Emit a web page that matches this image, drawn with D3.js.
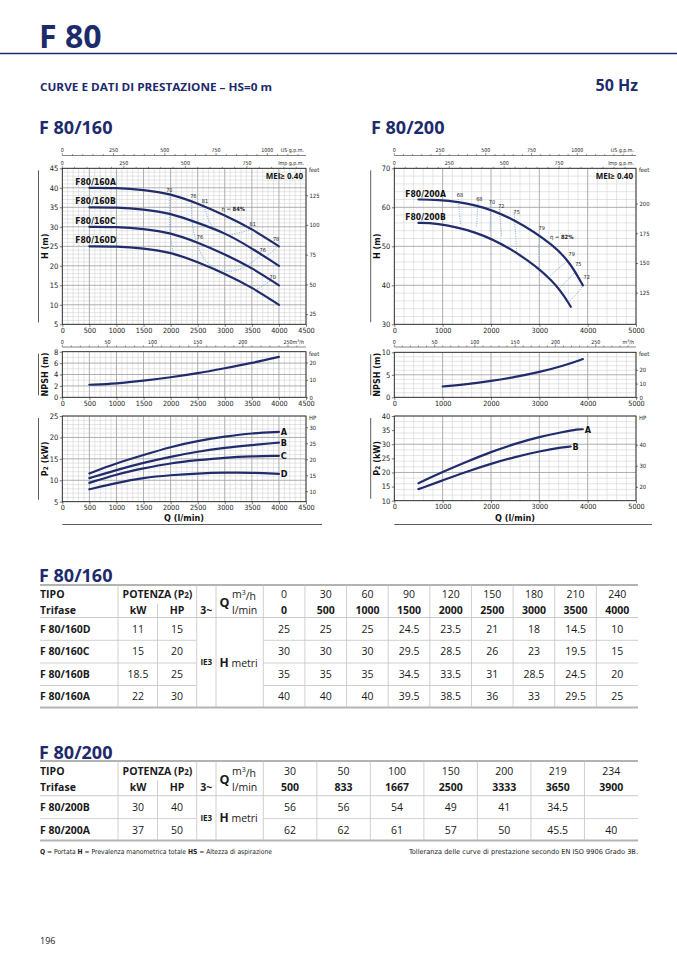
<!DOCTYPE html>
<html>
<head>
<meta charset="utf-8">
<script src="https://cdn.jsdelivr.net/npm/d3@7"></script>
<style>
  body { margin: 0; background: #fff; }
  svg { display: block; }
</style>
</head>
<body>
<script>
// ---- data ----
// F 80/160 table (also drives the H curves, Q > 0)
const q160 = [0, 500, 1000, 1500, 2000, 2500, 3000, 3500, 4000];
const m3h160 = [0, 30, 60, 90, 120, 150, 180, 210, 240];
const models160 = ["F 80/160D", "F 80/160C", "F 80/160B", "F 80/160A"];
const names160 = ["F80/160D", "F80/160C", "F80/160B", "F80/160A"];
const kw160 = [11, 15, 18.5, 22];
const hp160 = [15, 20, 25, 30];
const h160D = [25, 25, 25, 24.5, 23.5, 21, 18, 14.5, 10];
const h160C = [30, 30, 30, 29.5, 28.5, 26, 23, 19.5, 15];
const h160B = [35, 35, 35, 34.5, 33.5, 31, 28.5, 24.5, 20];
const h160A = [40, 40, 40, 39.5, 38.5, 36, 33, 29.5, 25];

// F 80/200 table
const q200 = [500, 833, 1667, 2500, 3333, 3650, 3900];
const m3h200 = [30, 50, 100, 150, 200, 219, 234];
const models200 = ["F 80/200B", "F 80/200A"];
const names200 = ["F80/200B", "F80/200A"];
const kw200 = [30, 37];
const hp200 = [40, 50];
const h200B = [56, 56, 54, 49, 41, 34.5, null];
const h200A = [62, 62, 61, 57, 50, 45.5, 40];

// NPSH and P2 curves
const qCurve160 = [500, 1000, 1500, 2000, 2500, 3000, 3500, 4000];
const npsh160 = [2.2, 2.4, 2.9, 3.5, 4.2, 5.1, 6.0, 7.1];
const p2_160A = [11.6, 14.0, 15.9, 17.8, 19.2, 20.2, 21.0, 21.3];
const p2_160B = [10.5, 12.4, 14.1, 15.5, 16.7, 17.6, 18.2, 18.8];
const p2_160C = [9.4, 11.4, 12.8, 14.0, 14.7, 15.3, 15.6, 15.7];
const p2_160D = [7.9, 9.4, 10.6, 11.2, 11.6, 11.8, 11.8, 11.5];

const qNpsh200 = [1000, 1500, 2000, 2500, 3000, 3500, 3900];
const npsh200 = [2.4, 2.9, 3.6, 4.5, 5.6, 7.0, 8.5];
const qP2_200A = [500, 1000, 1500, 2000, 2500, 3000, 3500, 3800, 3900];
const p2_200A = [16.2, 20.2, 23.8, 27.3, 30.2, 32.6, 34.4, 35.3, 35.3];
const qP2_200B = [500, 1000, 1500, 2000, 2500, 3000, 3500, 3650];
const p2_200B = [14.1, 17.2, 20.3, 23.1, 25.5, 27.5, 29.0, 29.2];

// efficiency iso lines [Q, H]
const iso160 = [
  [[1975, 38.7], [1980, 33.5], [1990, 28.5], [2050, 23.3]],
  [[3590, 13.9], [3720, 15.0], [3860, 16.3]],
  [[2390, 36.7], [2395, 31.8], [2470, 26.4], [2630, 21.6], [2850, 19.2], [3040, 18.6], [3250, 19.0], [3470, 20.6], [3690, 23.0]],
  [[2604, 36.4], [2650, 33.8], [2720, 31.2], [2850, 29.1], [3050, 28.1], [3250, 28.4], [3400, 29.0], [3500, 29.5]],
  [[3770, 22.5], [3880, 23.7], [3990, 25.1]]
];
const isoLabels160 = [
  ["70", 1977, 39.5], ["76", 2420, 37.8], ["81", 2635, 36.7], ["81", 3516, 30.6],
  ["78", 3947, 26.8], ["76", 3700, 24.0], ["70", 3885, 17.2], ["76", 2543, 27.3]
];
const bep160 = ["84%", 3158, 34.5];

const iso200 = [
  [[1324, 62.1], [1345, 58.8], [1374, 55.3]],
  [[1738, 61.5], [1715, 58.0], [1704, 54.6]],
  [[1994, 60.8], [1988, 57.4], [1980, 53.8]],
  [[2173, 60.2], [2192, 56.4], [2222, 52.6]],
  [[2477, 58.8], [2505, 53.9], [2532, 48.7]],
  [[3000, 53.0], [2985, 48.8], [3000, 44.4]],
  [[3221, 42.4], [3420, 44.6], [3600, 46.4]],
  [[3428, 39.4], [3600, 41.6], [3773, 43.8]],
  [[3600, 35.6], [3760, 37.6], [3910, 40.0]]
];
const isoLabels200 = [
  ["68", 1359, 63.2], ["68", 1759, 62.1], ["70", 2021, 61.3], ["72", 2214, 60.3], ["75", 2532, 58.9],
  ["79", 3050, 54.8], ["79", 3670, 48.0], ["75", 3807, 45.4], ["72", 3980, 42.0]
];
const bep200 = ["82%", 3463, 52.3];

// axis ticks
const flowTicks160 = d3.range(0, 4501, 500);
const flowTicks200 = d3.range(0, 5001, 1000);
const usTicks = [0, 250, 500, 750, 1000];
const impTicks160 = [0, 250, 500, 750];
const impTicks200 = [0, 250, 500, 750];
const m3hTicks = [0, 50, 100, 150, 200, 250];

// ---- drawing ----
const NAVY = "#1d2a6c";
const CURVE = "#202c6c";
const ISO = "#6fa6d8";
const COND = "'Liberation Sans Narrow','DejaVu Sans Condensed',sans-serif";
const SANS = "'Open Sans','Noto Sans',sans-serif";
const fmt = d3.format("d");

const svg = d3.select("body").append("svg")
  .attr("width", 677).attr("height", 958)
  .style("font-family", SANS);

function styleAxis(sel, size) {
  sel.attr("font-size", null).attr("font-family", null);
  sel.select(".domain").remove();
  sel.selectAll(".tick line").attr("stroke", "#222").attr("stroke-width", 0.6);
  sel.selectAll("text").attr("font-size", size).attr("font-family", COND).attr("fill", "#222");
}

function panel(o) {
  const x = d3.scaleLinear().domain(o.xd).range([o.l, o.r]);
  const y = d3.scaleLinear().domain(o.yd).range([o.b, o.t]);
  const g = svg.append("g");
  g.append("rect").attr("x", o.l).attr("y", o.t)
    .attr("width", o.r - o.l).attr("height", o.b - o.t).attr("fill", "#fff");

  const isMaj = (v, s) => Math.abs(v / s - Math.round(v / s)) < 1e-6;
  const xs = d3.range(o.xd[0], o.xd[1] + 1e-6, o.xm);
  const ys = d3.range(o.yd[0], o.yd[1] + 1e-6, o.ym);
  [false, true].forEach(major => {
    g.append("g").selectAll("line").data(xs.filter(v => isMaj(v, o.xM) === major)).join("line")
      .attr("x1", x).attr("x2", x).attr("y1", o.t).attr("y2", o.b)
      .attr("stroke", major ? "#a5a5a5" : "#cfcfcf")
      .attr("stroke-width", major ? 0.9 : 0.55);
    g.append("g").selectAll("line").data(ys.filter(v => isMaj(v, o.yM) === major)).join("line")
      .attr("x1", o.l).attr("x2", o.r).attr("y1", y).attr("y2", y)
      .attr("stroke", major ? "#a5a5a5" : "#cfcfcf")
      .attr("stroke-width", major ? 0.9 : 0.55);
  });
  g.append("rect").attr("x", o.l).attr("y", o.t)
    .attr("width", o.r - o.l).attr("height", o.b - o.t)
    .attr("fill", "none").attr("stroke", "#222").attr("stroke-width", 0.8);

  g.append("g").attr("transform", `translate(${o.l},0)`)
    .call(d3.axisLeft(y).tickValues(o.yt).tickFormat(fmt).tickSize(2.5).tickPadding(1.5))
    .call(styleAxis, 7.5);
  g.append("g").attr("transform", `translate(0,${o.b})`)
    .call(d3.axisBottom(x).tickValues(o.xt).tickFormat(fmt).tickSize(2.5).tickPadding(1))
    .call(styleAxis, 7.2);

  // secondary unit on the right
  const y2 = d3.scaleLinear().domain(o.yd.map(v => v / o.rf)).range([o.b, o.t]);
  g.append("g").attr("transform", `translate(${o.r},0)`)
    .call(d3.axisRight(y2).tickValues(o.rt).tickFormat(fmt).tickSize(2).tickPadding(1.5))
    .call(styleAxis, 5.8);
  g.append("text").attr("x", o.r + 3).attr("y", o.t + 4)
    .attr("font-family", COND).attr("font-size", 5.8).attr("fill", "#222").text(o.rl);

  // side bracket + rotated title
  g.append("line").attr("x1", o.bx).attr("x2", o.bx).attr("y1", o.t + 2).attr("y2", o.b - 2)
    .attr("stroke", "#333").attr("stroke-width", 0.8);
  const tt = g.append("text")
    .attr("transform", `translate(${o.bx + 9},${(o.t + o.b) / 2}) rotate(-90)`)
    .attr("text-anchor", "middle").attr("font-family", COND)
    .attr("font-weight", "bold").attr("font-size", 9).attr("fill", "#111");
  o.title(tt);
  return { x, y, g };
}

// top scale with a converted unit
function topScale(p, factor, ticks, minor, lineY, label, withLine) {
  const [l, r] = p.x.range();
  const u = d3.scaleLinear().domain(p.x.domain().map(v => v / factor)).range([l, r]);
  const g = p.g.append("g");
  if (withLine) {
    g.append("line").attr("x1", l).attr("x2", r).attr("y1", lineY).attr("y2", lineY)
      .attr("stroke", "#333").attr("stroke-width", 0.6);
  }
  const maxU = u.domain()[1];
  g.selectAll(".mt").data(d3.range(0, maxU, minor)).join("line")
    .attr("x1", u).attr("x2", u).attr("y1", lineY)
    .attr("y2", d => lineY - (ticks.includes(d) ? 2.5 : 1.5))
    .attr("stroke", "#333").attr("stroke-width", 0.5);
  g.selectAll(".lb").data(ticks).join("text")
    .attr("x", u).attr("y", lineY - 3.5).attr("text-anchor", "middle")
    .attr("font-family", COND).attr("font-size", 5.3).attr("fill", "#222").text(d => d);
  const lt = g.append("text").attr("x", r - 2).attr("y", lineY - 3.5).attr("text-anchor", "end")
    .attr("font-family", COND).attr("font-size", 5.3).attr("fill", "#222");
  label(lt);
}

const isoLine = (p) => d3.line().x(d => p.x(d[0])).y(d => p.y(d[1])).curve(d3.curveCatmullRom.alpha(0.5));
const pumpLine = (p) => d3.line().x(d => p.x(d[0])).y(d => p.y(d[1])).curve(d3.curveBasis);

function drawCurve(p, pts, w) {
  p.g.append("path").attr("d", pumpLine(p)(pts)).attr("fill", "none")
    .attr("stroke", CURVE).attr("stroke-width", w || 2.2).attr("stroke-linecap", "round");
}

function drawIso(p, lines, labels, bep) {
  p.g.append("g").selectAll("path").data(lines).join("path")
    .attr("d", isoLine(p)).attr("fill", "none").attr("stroke", ISO)
    .attr("stroke-width", 0.9).attr("stroke-dasharray", "1.1,1.3");
  p.g.append("g").selectAll("text").data(labels).join("text")
    .attr("x", d => p.x(d[1])).attr("y", d => p.y(d[2])).attr("dy", "0.35em")
    .attr("text-anchor", "middle").attr("font-family", COND).attr("font-size", 5.5)
    .attr("fill", "#222").text(d => d[0]);
  const t = p.g.append("text").attr("x", p.x(bep[1])).attr("y", p.y(bep[2])).attr("dy", "0.35em")
    .attr("text-anchor", "middle").attr("font-family", COND).attr("font-size", 5.8).attr("fill", "#222");
  t.append("tspan").text("η = ");
  t.append("tspan").attr("font-weight", "bold").text(bep[0]);
}

function zip(xs, ys) { return xs.map((v, i) => [v, ys[i]]).filter(d => d[0] > 0 && d[1] != null); }

// ---- header ----
svg.append("text").attr("x", 39).attr("y", 48).attr("font-size", 32).attr("font-weight", "bold")
  .attr("fill", NAVY).text("F 80");
svg.append("line").attr("x1", 0).attr("x2", 677).attr("y1", 53.5).attr("y2", 53.5)
  .attr("stroke", NAVY).attr("stroke-width", 1.6);
svg.append("text").attr("x", 40).attr("y", 91).attr("font-size", 10.5).attr("font-weight", "bold")
  .attr("fill", NAVY).attr("textLength", 232).attr("lengthAdjust", "spacingAndGlyphs")
  .text("CURVE E DATI DI PRESTAZIONE  –  HS=0 m");
svg.append("text").attr("x", 638).attr("y", 91).attr("text-anchor", "end").attr("font-size", 16)
  .attr("font-weight", "bold").attr("fill", NAVY).text("50 Hz");
svg.append("text").attr("x", 39).attr("y", 133.5).attr("font-size", 18).attr("font-weight", "bold")
  .attr("fill", NAVY).text("F 80/160");
svg.append("text").attr("x", 371).attr("y", 133.5).attr("font-size", 18).attr("font-weight", "bold")
  .attr("fill", NAVY).text("F 80/200");

// ---- F 80/160 charts ----
const L = { l: 62.3, r: 306, xd: [0, 4500], xm: 100, xM: 500, xt: flowTicks160, bx: 38.5 };
const hL = panel(Object.assign({}, L, {
  t: 168.3, b: 324.3, yd: [5, 45], ym: 1, yM: 5, yt: d3.range(5, 46, 5),
  rf: 0.3048, rt: [25, 50, 75, 100, 125], rl: "feet", title: t => t.text("H (m)")
}));
topScale(hL, 3.78541, usTicks, 50, 155.5, t => t.text("US g.p.m."), true);
topScale(hL, 4.54609, impTicks160, 50, 168.3, t => t.text("Imp g.p.m."), false);
drawIso(hL, iso160, isoLabels160, bep160);
[h160D, h160C, h160B, h160A].forEach((h, i) => {
  drawCurve(hL, zip(q160, h));
  hL.g.append("text").attr("x", L.l + 13).attr("y", hL.y(h[1]) - 3)
    .attr("font-family", COND).attr("font-weight", "bold").attr("font-size", 8.5).attr("fill", "#111")
    .text(names160[i]);
});
hL.g.append("text").attr("x", 303).attr("y", 178.5).attr("text-anchor", "end")
  .attr("font-weight", "bold").attr("font-size", 8).attr("fill", "#111").text("MEI≥ 0.40");

const nL = panel(Object.assign({}, L, {
  t: 351.7, b: 397.3, yd: [0, 8], ym: 1, yM: 2, yt: [0, 2, 4, 6, 8],
  rf: 0.3048, rt: [0, 10, 20], rl: "feet", title: t => t.text("NPSH (m)")
}));
topScale(nL, 16.6667, m3hTicks, 10, 347, t => { t.text("m"); t.append("tspan").attr("font-size", 3.8).attr("dy", -1.5).text("3"); t.append("tspan").attr("dy", 1.5).text("/h"); }, true);
drawCurve(nL, zip(qCurve160, npsh160));

const pL = panel(Object.assign({}, L, {
  t: 416, b: 501.7, yd: [5, 25], ym: 1, yM: 5, yt: d3.range(5, 26, 5),
  rf: 0.7457, rt: [10, 15, 20, 25, 30], rl: "HP",
  title: t => { t.text("P"); t.append("tspan").attr("font-size", 6.5).text("2"); t.append("tspan").text(" (kW)"); }
}));
[["A", p2_160A], ["B", p2_160B], ["C", p2_160C], ["D", p2_160D]].forEach(([k, v]) => {
  drawCurve(pL, zip(qCurve160, v));
  pL.g.append("text").attr("x", pL.x(4000) + 1.8).attr("y", pL.y(v[v.length - 1])).attr("dy", "0.36em")
    .attr("font-family", COND).attr("font-weight", "bold").attr("font-size", 9).attr("fill", "#111").text(k);
});

// ---- F 80/200 charts ----
const R = { l: 394.3, r: 636, xd: [0, 5000], xm: 200, xM: 1000, xt: flowTicks200, bx: 370.7 };
const hR = panel(Object.assign({}, R, {
  t: 168.3, b: 324.3, yd: [30, 70], ym: 2, yM: 10, yt: [30, 40, 50, 60, 70],
  rf: 0.3048, rt: [125, 150, 175, 200], rl: "feet", title: t => t.text("H (m)")
}));
topScale(hR, 3.78541, usTicks, 50, 155.5, t => t.text("US g.p.m."), true);
topScale(hR, 4.54609, impTicks200, 50, 168.3, t => t.text("Imp g.p.m."), false);
drawIso(hR, iso200, isoLabels200, bep200);
[h200B, h200A].forEach((h, i) => {
  drawCurve(hR, zip(q200, h));
  hR.g.append("text").attr("x", R.l + 11).attr("y", hR.y(h[0]) - 3)
    .attr("font-family", COND).attr("font-weight", "bold").attr("font-size", 8.5).attr("fill", "#111")
    .text(names200[i]);
});
hR.g.append("text").attr("x", 633).attr("y", 178.5).attr("text-anchor", "end")
  .attr("font-weight", "bold").attr("font-size", 8).attr("fill", "#111").text("MEI≥ 0.40");

const nR = panel(Object.assign({}, R, {
  t: 352.3, b: 397.3, yd: [0, 10], ym: 1, yM: 5, yt: [0, 5, 10],
  rf: 0.3048, rt: [0, 10, 20], rl: "feet", title: t => t.text("NPSH (m)")
}));
topScale(nR, 16.6667, m3hTicks, 10, 347, t => { t.text("m"); t.append("tspan").attr("font-size", 3.8).attr("dy", -1.5).text("3"); t.append("tspan").attr("dy", 1.5).text("/h"); }, true);
drawCurve(nR, zip(qNpsh200, npsh200));

const pR = panel(Object.assign({}, R, {
  t: 416, b: 500.7, yd: [10, 40], ym: 2, yM: 10, yt: d3.range(10, 41, 5),
  rf: 0.7457, rt: [20, 30, 40], rl: "HP",
  title: t => { t.text("P"); t.append("tspan").attr("font-size", 6.5).text("2"); t.append("tspan").text(" (kW)"); }
}));
[["A", qP2_200A, p2_200A], ["B", qP2_200B, p2_200B]].forEach(([k, q, v]) => {
  drawCurve(pR, zip(q, v));
  pR.g.append("text").attr("x", pR.x(q[q.length - 1]) + 1.8).attr("y", pR.y(v[v.length - 1])).attr("dy", "0.36em")
    .attr("font-family", COND).attr("font-weight", "bold").attr("font-size", 9).attr("fill", "#111").text(k);
});

// Q axis captions
[[L, 184], [R, 515]].forEach(([c, cx]) => {
  svg.append("text").attr("x", cx).attr("y", 521).attr("text-anchor", "middle")
    .attr("font-family", COND).attr("font-weight", "bold").attr("font-size", 9).attr("fill", "#111")
    .text("Q (l/min)");
  svg.append("line").attr("x1", c.l).attr("x2", c.r + 16).attr("y1", 524.5).attr("y2", 524.5)
    .attr("stroke", "#333").attr("stroke-width", 0.8);
});

// ---- tables ----
function table(o) {
  const g = svg.append("g").attr("font-size", 10.5).attr("fill", "#1a1a1a");
  const col = d3.scaleBand().domain(d3.range(o.m3h.length)).range([263.3, 638]);
  const cx = i => col(i) + col.bandwidth() / 2;
  const GRID = "#c4c4c4";
  svg.append("text").attr("x", 39).attr("y", o.titleY).attr("font-size", 18).attr("font-weight", "bold")
    .attr("fill", NAVY).text(o.title);

  // rules
  const hl = (y, x1, x2, w, c) => g.append("line").attr("x1", x1).attr("x2", x2).attr("y1", y).attr("y2", y)
    .attr("stroke", c || GRID).attr("stroke-width", w || 0.8);
  hl(o.top, 40, 638, 2, "#b3b3b3");
  hl(o.hdr, 40, 638, 0.9);
  o.seps.forEach(s => { hl(s, 40, 196.7); hl(s, 263.3, 638); });
  hl(o.bottom, 40, 638, 2, "#b3b3b3");
  const vx = [118, 196.7, 216, 263.3].concat(d3.range(1, o.m3h.length).map(i => col(i)));
  g.append("g").selectAll("line").data(vx).join("line")
    .attr("x1", d => d).attr("x2", d => d).attr("y1", o.top).attr("y2", o.bottom)
    .attr("stroke", GRID).attr("stroke-width", 0.8);
  g.append("line").attr("x1", 157.5).attr("x2", 157.5).attr("y1", (o.r1 + o.r2) / 2 + 1).attr("y2", o.bottom)
    .attr("stroke", GRID).attr("stroke-width", 0.8);

  const txt = (x, y, s, anchor, bold, size) => g.append("text").attr("x", x).attr("y", y).attr("dy", "0.36em")
    .attr("text-anchor", anchor || "start").attr("font-weight", bold ? "bold" : null)
    .attr("font-size", size || null).text(s);

  txt(40, o.r1, "TIPO", "start", true);
  txt(40, o.r2, "Trifase", "start", true);
  const pt = txt(157.5, o.r1, "POTENZA (P", "middle", true);
  pt.append("tspan").attr("font-size", 8).text("2");
  pt.append("tspan").text(")");
  txt(138, o.r2, "kW", "middle", true);
  txt(177, o.r2, "HP", "middle", true);
  txt(206.3, o.r2, "3~", "middle", true);
  txt(219.5, (o.r1 + o.r2) / 2, "Q", "start", true, 12.5);
  const mt = txt(232, o.r1, "m", "start");
  mt.append("tspan").attr("font-size", 7).attr("dy", "-0.4em").text("3");
  mt.append("tspan").attr("dy", "0.4em").text("/h");
  txt(232, o.r2, "l/min", "start");
  g.append("g").selectAll("text").data(o.m3h).join("text")
    .attr("x", (d, i) => cx(i)).attr("y", o.r1).attr("dy", "0.36em").attr("text-anchor", "middle").text(d => d);
  g.append("g").selectAll("text").data(o.lmin).join("text")
    .attr("x", (d, i) => cx(i)).attr("y", o.r2).attr("dy", "0.36em").attr("text-anchor", "middle")
    .attr("font-weight", "bold").text(d => d);

  const mid = (o.hdr + o.bottom) / 2;
  txt(206.3, mid, "IE3", "middle", true, 8);
  const ht = txt(219.5, mid, "H", "start", true, 12);
  ht.append("tspan").attr("font-weight", "normal").attr("font-size", 10.5).text(" metri");

  o.models.forEach((m, r) => {
    const y = o.rows[r];
    txt(40, y, m, "start", true);
    txt(138, y, o.kw[r], "middle");
    txt(177, y, o.hp[r], "middle");
    g.append("g").selectAll("text").data(o.heads[r]).join("text")
      .attr("x", (d, i) => cx(i)).attr("y", y).attr("dy", "0.36em").attr("text-anchor", "middle")
      .text(d => d == null ? "" : d);
  });
}

table({
  title: "F 80/160", titleY: 581.5, top: 585, r1: 594.5, r2: 610.5, hdr: 617.5,
  rows: [629.3, 651.7, 674, 696.7], seps: [640.3, 663, 685.5], bottom: 707.5,
  m3h: m3h160, lmin: q160, models: models160, kw: kw160, hp: hp160,
  heads: [h160D, h160C, h160B, h160A]
});
table({
  title: "F 80/200", titleY: 758.5, top: 761, r1: 771.5, r2: 787.5, hdr: 795.7,
  rows: [807.7, 830], seps: [818.6], bottom: 840.5,
  m3h: m3h200, lmin: q200, models: models200, kw: kw200, hp: hp200,
  heads: [h200B, h200A]
});

// footnotes
const fn = svg.append("text").attr("x", 40).attr("y", 853.5).attr("font-family", COND)
  .attr("font-size", 6.8).attr("fill", "#1a1a1a").attr("textLength", 232).attr("lengthAdjust", "spacingAndGlyphs");
[["Q", true], [" = Portata   ", false], ["H", true], [" = Prevalenza manometrica totale   ", false],
 ["HS", true], [" = Altezza di aspirazione", false]].forEach(([s, b]) => {
  fn.append("tspan").attr("font-weight", b ? "bold" : null).text(s);
});
svg.append("text").attr("x", 638).attr("y", 853.5).attr("text-anchor", "end").attr("font-family", COND)
  .attr("font-size", 6.8).attr("fill", "#1a1a1a").attr("textLength", 229).attr("lengthAdjust", "spacingAndGlyphs")
  .text("Tolleranza delle curve di prestazione secondo EN ISO 9906 Grado 3B.");

svg.append("text").attr("x", 40).attr("y", 944).attr("font-size", 9).attr("fill", "#222").text("196");
</script>
</body>
</html>
